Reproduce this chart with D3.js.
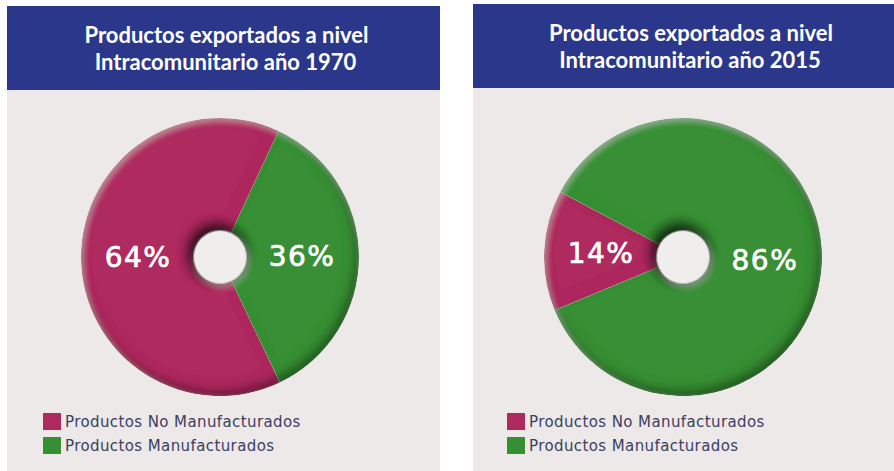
<!DOCTYPE html>
<html>
<head>
<meta charset="utf-8">
<script src="https://cdn.jsdelivr.net/npm/d3@7"></script>
<style>
  body { margin: 0; background: #fff; }
  svg { display: block; }
</style>
</head>
<body>
<div class="chart"></div>
<script>
// data
const categories = ['Productos No Manufacturados', 'Productos Manufacturados'];
const years = ['1970', '2015'];
const values1970 = [64, 36];
const values2015 = [14, 86];
const startDeg = [154.5, 247.5];   // where the first slice starts, clockwise from 12 o'clock
const colors = ['#ae2a5e', '#378f34'];

const svg_width = 894;
const svg_height = 471;

const svg = d3.select('.chart')
              .append('svg')
              .attr('width', svg_width)
              .attr('height', svg_height);

// bevel look of the donuts
const defs = svg.append('defs');
const f = defs.append('filter').attr('id', 'bevel')
              .attr('x', '-10%').attr('y', '-10%').attr('width', '120%').attr('height', '120%');
f.append('feGaussianBlur').attr('in', 'SourceAlpha').attr('stdDeviation', 6).attr('result', 'blur');
f.append('feOffset').attr('in', 'blur').attr('dx', -3).attr('dy', -5).attr('result', 'offDark');
f.append('feComposite').attr('in', 'SourceAlpha').attr('in2', 'offDark')
 .attr('operator', 'arithmetic').attr('k2', 1).attr('k3', -1).attr('result', 'darkMask');
f.append('feFlood').attr('flood-color', '#000').attr('flood-opacity', 0.75).attr('result', 'darkCol');
f.append('feComposite').attr('in', 'darkCol').attr('in2', 'darkMask').attr('operator', 'in').attr('result', 'dark');
f.append('feGaussianBlur').attr('in', 'SourceAlpha').attr('stdDeviation', 3).attr('result', 'blur2');
f.append('feOffset').attr('in', 'blur2').attr('dx', 2).attr('dy', 3).attr('result', 'offLight');
f.append('feComposite').attr('in', 'SourceAlpha').attr('in2', 'offLight')
 .attr('operator', 'arithmetic').attr('k2', 1).attr('k3', -1).attr('result', 'lightMask');
f.append('feFlood').attr('flood-color', '#fff').attr('flood-opacity', 0.25).attr('result', 'lightCol');
f.append('feComposite').attr('in', 'lightCol').attr('in2', 'lightMask').attr('operator', 'in').attr('result', 'light');
const merge = f.append('feMerge').attr('result', 'merged');
merge.append('feMergeNode').attr('in', 'SourceGraphic');
merge.append('feMergeNode').attr('in', 'dark');
merge.append('feMergeNode').attr('in', 'light');
f.append('feComposite').attr('in', 'merged').attr('in2', 'SourceAlpha').attr('operator', 'in');

// dark halo round the hole
const halo = defs.append('radialGradient').attr('id', 'halo');
halo.append('stop').attr('offset', '0.6').attr('stop-color', '#000').attr('stop-opacity', 0.45);
halo.append('stop').attr('offset', '0.8').attr('stop-color', '#000').attr('stop-opacity', 0.18);
halo.append('stop').attr('offset', '1').attr('stop-color', '#000').attr('stop-opacity', 0);

const panels = [
    {x: 7, top: 6, width: 433, values: values1970, year: years[0], start: startDeg[0], cx: 213, lx: 36},
    {x: 473, top: 4, width: 430, values: values2015, year: years[1], start: startDeg[1], cx: 210, lx: 34}
];

const outerR = 139;
const innerR = 27;
const arcGen = d3.arc().innerRadius(innerR).outerRadius(outerR);
const labelArc = d3.arc().innerRadius(82).outerRadius(82);

panels.forEach(p => {
    const g = svg.append('g').attr('transform', `translate(${p.x}, 0)`);

    g.append('rect')
     .attr('x', 0).attr('y', p.top)
     .attr('width', p.width).attr('height', svg_height - p.top)
     .style('fill', '#ede9e8');

    g.append('rect')
     .attr('x', 0).attr('y', p.top)
     .attr('width', p.width).attr('height', 84)
     .style('fill', '#2b378b');

    const title = g.append('text')
                   .attr('text-anchor', 'middle')
                   .style('font-family', 'Lato, sans-serif')
                   .style('font-weight', 700)
                   .style('font-size', '22px')
                   .style('fill', '#fff');
    title.append('tspan').attr('x', p.width / 2 + 3).attr('y', p.top + 37).text('Productos exportados a nivel');
    title.append('tspan').attr('x', p.width / 2 + 2).attr('y', p.top + 64).text(`Intracomunitario año ${p.year}`);

    const pie = d3.pie().sort(null)
                  .startAngle(p.start * Math.PI / 180)
                  .endAngle(p.start * Math.PI / 180 + 2 * Math.PI);
    const arcs = pie(p.values);

    const donut = g.append('g')
                   .attr('transform', `translate(${p.cx}, 257)`);

    donut.append('g')
         .attr('filter', 'url(#bevel)')
         .selectAll('path')
         .data(arcs)
         .enter()
         .append('path')
         .attr('d', arcGen)
         .style('fill', (d, i) => colors[i]);

    donut.append('circle')
         .attr('cx', -3).attr('cy', -4)
         .attr('r', innerR + 12)
         .style('fill', 'url(#halo)');

    donut.append('circle').attr('r', innerR - 1).style('fill', '#f0eded');

    donut.selectAll('.pct')
         .data(arcs)
         .enter()
         .append('text')
         .attr('class', 'pct')
         .attr('x', d => labelArc.centroid(d)[0])
         .attr('y', d => labelArc.centroid(d)[1])
         .attr('text-anchor', 'middle')
         .attr('dominant-baseline', 'central')
         .style('font-family', 'DejaVu Sans, sans-serif')
         .style('font-size', '28px')
         .style('letter-spacing', '1.5px')
         .style('fill', '#fff')
         .style('stroke', '#fff')
         .style('stroke-width', 0.7)
         .text(d => `${d.data}%`);

    const legend = g.append('g')
                    .attr('transform', `translate(${p.lx}, 413)`);
    const items = legend.selectAll('.item')
                        .data(categories)
                        .enter()
                        .append('g')
                        .attr('class', 'item')
                        .attr('transform', (d, i) => `translate(0, ${i * 24})`);
    items.append('rect')
         .attr('width', 18).attr('height', 17)
         .style('fill', (d, i) => colors[i]);
    items.append('text')
         .attr('x', 22).attr('y', 14)
         .style('font-family', 'DejaVu Sans, sans-serif')
         .style('font-size', '15px')
         .style('letter-spacing', '0.4px')
         .style('fill', '#3b3e63')
         .text(d => d);
});
</script>
</body>
</html>
